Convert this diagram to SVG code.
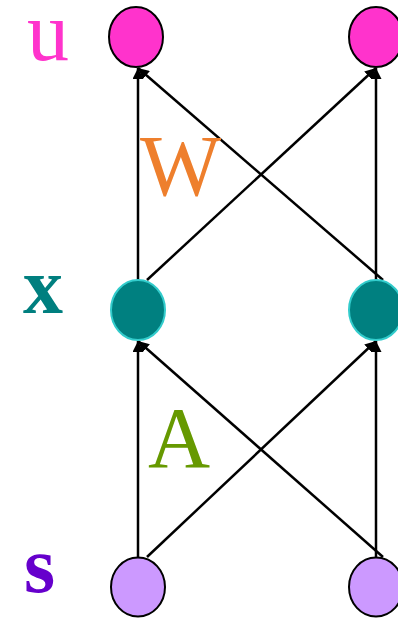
<svg xmlns="http://www.w3.org/2000/svg" width="398" height="618" viewBox="0 0 398 618">
<style>
.lbl{font-family:"Liberation Serif","Times New Roman",serif;}
.edge{stroke:#000;stroke-width:2.5;fill:none;marker-end:url(#ah);}
.u{fill:#ff33cc;stroke:#000;stroke-width:2;}
.x{fill:#008080;stroke:#33cccc;stroke-width:2;}
.s{fill:#cc99ff;stroke:#000;stroke-width:2;}
</style>
<defs>
<marker id="ah" viewBox="0 0 10 10" refX="10" refY="5" markerWidth="4.4" markerHeight="4.4" orient="auto" markerUnits="strokeWidth">
<path d="M0,0 L10,5 L0,10 z" fill="#000"/>
</marker>
</defs>
<rect width="398" height="618" fill="#fff"/>
<g id="connectors">
<line class="edge" x1="138" y1="280" x2="138" y2="68"/>
<line class="edge" x1="147" y1="280" x2="376" y2="68"/>
<line class="edge" x1="376" y1="280" x2="376" y2="68"/>
<line class="edge" x1="383" y1="280" x2="138" y2="68"/>
<line class="edge" x1="138" y1="557" x2="138" y2="341"/>
<line class="edge" x1="147" y1="557" x2="376" y2="341"/>
<line class="edge" x1="376" y1="557" x2="376" y2="341"/>
<line class="edge" x1="383" y1="557" x2="138" y2="341"/>
</g>
<g id="u1"><ellipse class="u" cx="136" cy="37" rx="27" ry="30"/></g>
<g id="u2"><ellipse class="u" cx="376" cy="37" rx="27" ry="30"/></g>
<g id="x1"><ellipse class="x" cx="138" cy="310" rx="27" ry="30"/></g>
<g id="x2"><ellipse class="x" cx="376" cy="310" rx="27" ry="30"/></g>
<g id="s1"><ellipse class="s" cx="138" cy="587" rx="27" ry="29.5"/></g>
<g id="s2"><ellipse class="s" cx="376" cy="587" rx="27" ry="29.5"/></g>
<g id="labels">
<text class="lbl" x="27" y="60" font-size="84" fill="#ff33cc">u</text>
<text class="lbl" x="23" y="313" font-size="80" font-weight="bold" fill="#007f7f">x</text>
<text class="lbl" x="24" y="592" font-size="80" font-weight="bold" fill="#6600cc">s</text>
<text class="lbl" x="140" y="195" font-size="86" fill="#ee7f2d">W</text>
<text class="lbl" x="148" y="467" font-size="86" fill="#669900">A</text>
</g>
</svg>
